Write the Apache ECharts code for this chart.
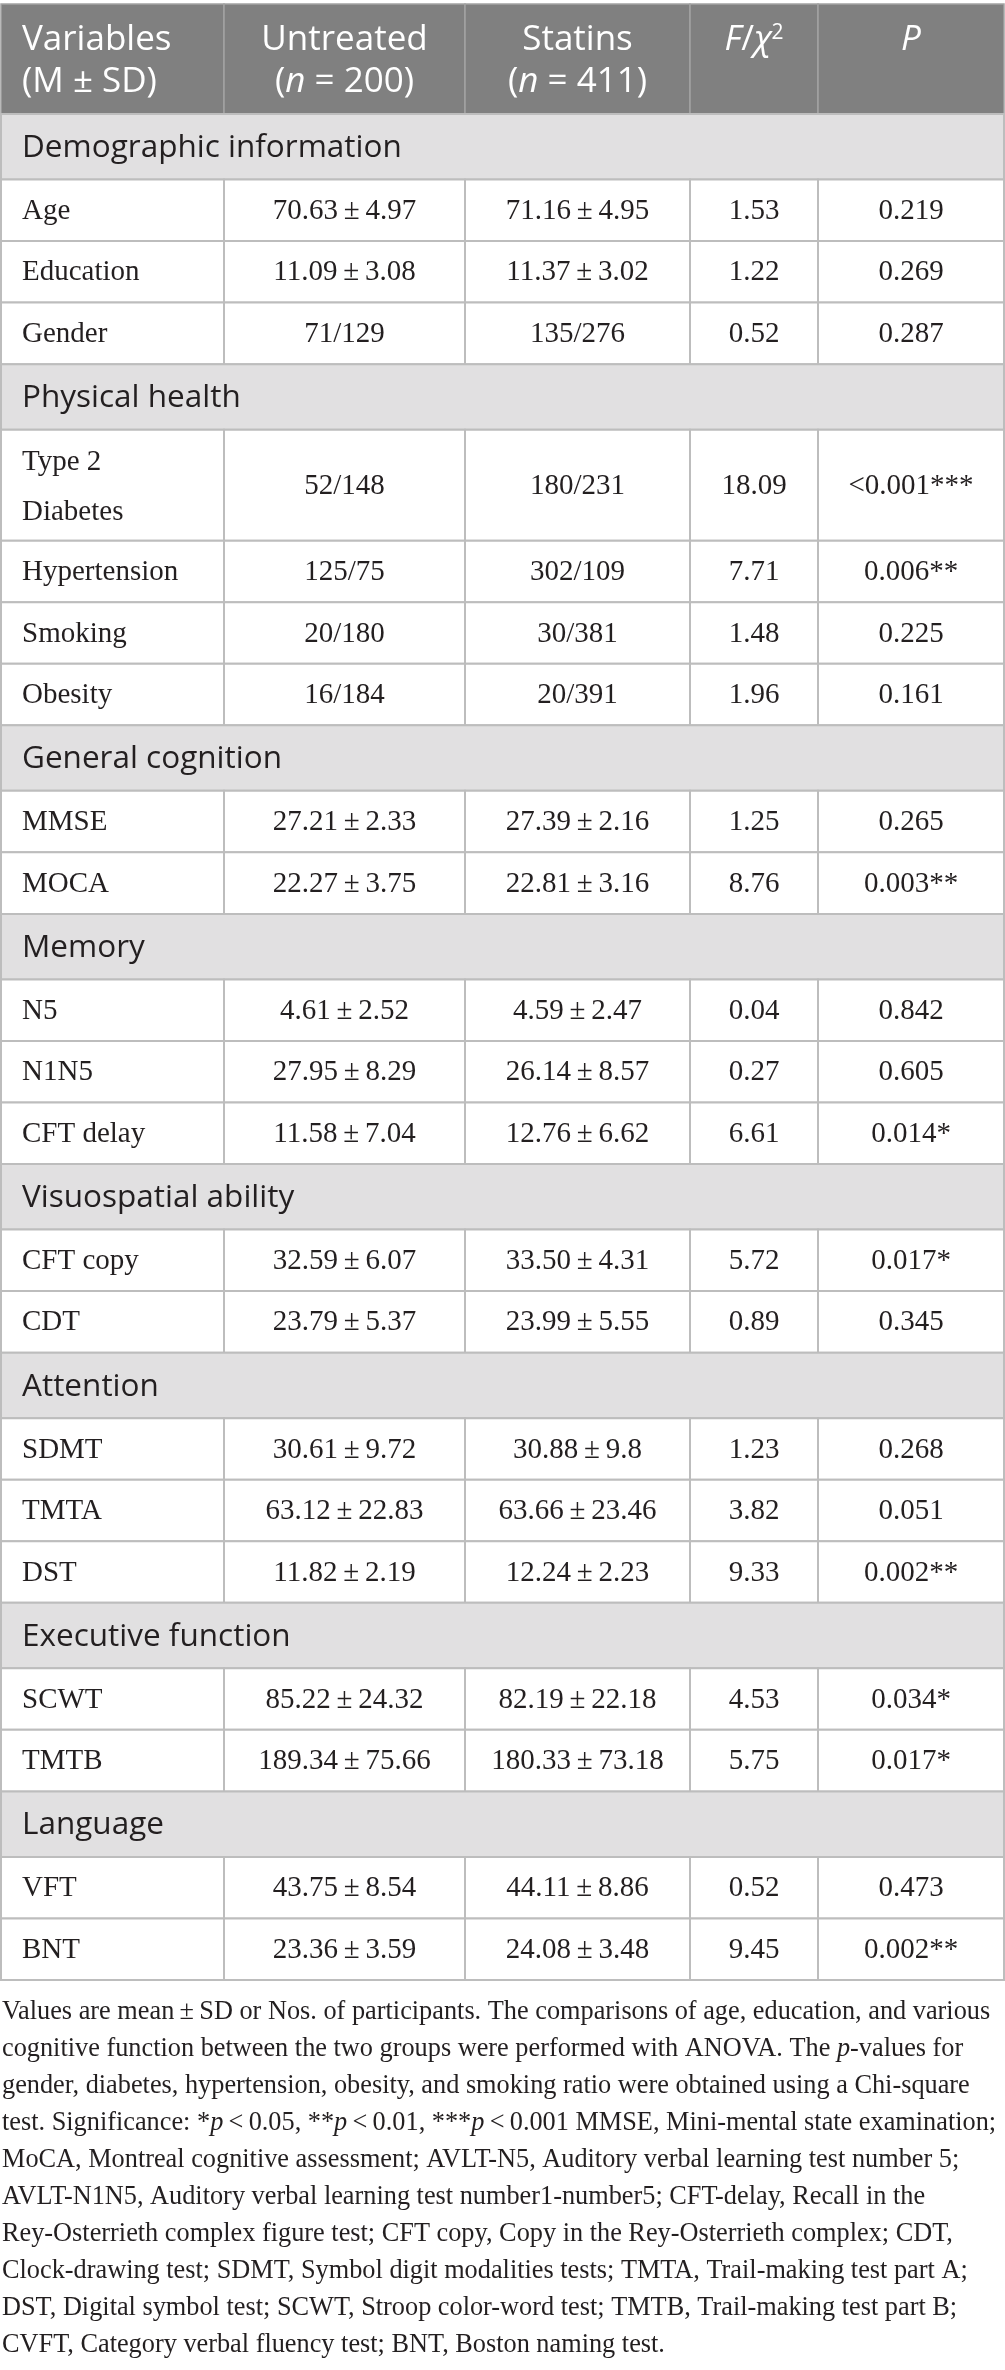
<!DOCTYPE html>
<html>
<head>
<meta charset="utf-8">
<script src="https://cdn.jsdelivr.net/npm/echarts@6/dist/echarts.min.js"></script>
<style>
html,body{margin:0;padding:0;background:#ffffff;}
#chart{width:1005px;height:2370px;}
</style>
</head>
<body>
<div id="chart"></div>
<script>
// ---------------- DATA ----------------
const headerLabels = [
  ['Variables', '(M ± SD)'],
  ['Untreated', '({i|n} = 200)'],
  ['Statins', '({i|n} = 411)'],
  ['{i|F}/{i|χ}{sup|2}'],
  ['{i|P}']
];
const sectionNames = [
  'Demographic information',
  'Physical health',
  'General cognition',
  'Memory',
  'Visuospatial ability',
  'Attention',
  'Executive function',
  'Language'
];
const rowSection = [0,0,0, 1,1,1,1, 2,2, 3,3,3, 4,4, 5,5,5, 6,6, 7,7];
const variableNames = [
  'Age','Education','Gender',
  'Type 2\nDiabetes','Hypertension','Smoking','Obesity',
  'MMSE','MOCA',
  'N5','N1N5','CFT delay',
  'CFT copy','CDT',
  'SDMT','TMTA','DST',
  'SCWT','TMTB',
  'VFT','BNT'
];
const untreatedValues = [
  '70.63±4.97','11.09±3.08','71/129',
  '52/148','125/75','20/180','16/184',
  '27.21±2.33','22.27±3.75',
  '4.61±2.52','27.95±8.29','11.58±7.04',
  '32.59±6.07','23.79±5.37',
  '30.61±9.72','63.12±22.83','11.82±2.19',
  '85.22±24.32','189.34±75.66',
  '43.75±8.54','23.36±3.59'
];
const statinsValues = [
  '71.16±4.95','11.37±3.02','135/276',
  '180/231','302/109','30/381','20/391',
  '27.39±2.16','22.81±3.16',
  '4.59±2.47','26.14±8.57','12.76±6.62',
  '33.50±4.31','23.99±5.55',
  '30.88±9.8','63.66±23.46','12.24±2.23',
  '82.19±22.18','180.33±73.18',
  '44.11±8.86','24.08±3.48'
];
const fValues = [
  1.53, 1.22, 0.52,
  18.09, 7.71, 1.48, 1.96,
  1.25, 8.76,
  0.04, 0.27, 6.61,
  5.72, 0.89,
  1.23, 3.82, 9.33,
  4.53, 5.75,
  0.52, 9.45
];
const pValues = [
  '0.219','0.269','0.287',
  '<0.001***','0.006**','0.225','0.161',
  '0.265','0.003**',
  '0.842','0.605','0.014*',
  '0.017*','0.345',
  '0.268','0.051','0.002**',
  '0.034*','0.017*',
  '0.473','0.002**'
];
const footnoteLines = [
  'Values are mean\u2009±\u2009SD or Nos. of participants. The comparisons of age, education, and various',
  'cognitive function between the two groups were performed with ANOVA. The {i|p}-values for',
  'gender, diabetes, hypertension, obesity, and smoking ratio were obtained using a Chi-square',
  'test. Significance: *{i|p}\u2009<\u20090.05, **{i|p}\u2009<\u20090.01, ***{i|p}\u2009<\u20090.001 MMSE, Mini-mental state examination;',
  'MoCA, Montreal cognitive assessment; AVLT-N5, Auditory verbal learning test number 5;',
  'AVLT-N1N5, Auditory verbal learning test number1-number5; CFT-delay, Recall in the',
  'Rey-Osterrieth complex figure test; CFT copy, Copy in the Rey-Osterrieth complex; CDT,',
  'Clock-drawing test; SDMT, Symbol digit modalities tests; TMTA, Trail-making test part A;',
  'DST, Digital symbol test; SCWT, Stroop color-word test; TMTB, Trail-making test part B;',
  'CVFT, Category verbal fluency test; BNT, Boston naming test.'
];

// ---------------- LAYOUT / STYLE ----------------
const colEdges = [1, 224, 465, 690, 818, 1004];
const TABLE_TOP = 4, HEADER_H = 110, SECTION_H = 65.5, ROW_H = 61.55, DOUBLE_H = 111;
const SANS = '"Open Sans", "Noto Sans", sans-serif';
const SERIF = '"Liberation Serif", "DejaVu Serif", serif';
const TEXT_DARK = '#231f20';
const HEADER_BG = '#808080', SECTION_BG = '#e1e0e1', GRID_LINE = '#bdbdbd';
const FOOT_TOP = 2012, FOOT_STEP = 37, FOOT_SIZE = 26.3, BODY_SIZE = 29;

// build the cell list
const cells = [];
let y = TABLE_TOP;
for (let c = 0; c < 5; c++) {
  cells.push({x0: colEdges[c], x1: colEdges[c + 1], y0: y, y1: y + HEADER_H, kind: 'header', lines: headerLabels[c], left: c === 0});
}
y += HEADER_H;
let lastSection = -1;
for (let r = 0; r < variableNames.length; r++) {
  if (rowSection[r] !== lastSection) {
    lastSection = rowSection[r];
    cells.push({x0: colEdges[0], x1: colEdges[5], y0: y, y1: y + SECTION_H, kind: 'section', lines: [sectionNames[lastSection]], left: true});
    y += SECTION_H;
  }
  const lines = variableNames[r].split('\n');
  const h = lines.length > 1 ? DOUBLE_H : ROW_H;
  const fmt = s => s.replace('±', '\u2009±\u2009');
  const vals = [variableNames[r], fmt(untreatedValues[r]), fmt(statinsValues[r]), fValues[r].toFixed(2), pValues[r]];
  for (let c = 0; c < 5; c++) {
    cells.push({x0: colEdges[c], x1: colEdges[c + 1], y0: y, y1: y + h, kind: 'data', lines: vals[c].split('\n'), left: c === 0});
  }
  y += h;
}

const chart = echarts.init(document.getElementById('chart'), null, {renderer: 'canvas'});

function renderCell(params, api) {
  const c = cells[api.value(4)];
  const p0 = api.coord([api.value(0), api.value(2)]);
  const p1 = api.coord([api.value(1), api.value(3)]);
  const children = [];
  let fill = '#ffffff', stroke = GRID_LINE, lw = 2;
  if (c.kind === 'header') { fill = HEADER_BG; stroke = '#a3a3a3'; lw = 1.5; }
  if (c.kind === 'section') { fill = SECTION_BG; }
  children.push({type: 'rect', shape: {x: p0[0], y: p0[1], width: p1[0] - p0[0], height: p1[1] - p0[1]},
    style: {fill: fill, stroke: stroke, lineWidth: lw}});
  const tx = c.left ? p0[0] + 21 : (p0[0] + p1[0]) / 2;
  let font, size, color, firstY, step;
  if (c.kind === 'header') { font = SANS; size = 35; color = '#ffffff'; firstY = p0[1] + 36; step = 42; }
  else if (c.kind === 'section') { font = SANS; size = 31.5; color = TEXT_DARK; firstY = p0[1] + 34; step = 0; }
  else { font = SERIF; size = BODY_SIZE; color = TEXT_DARK; firstY = c.lines.length > 1 ? p0[1] + 33 : (p0[1] + p1[1]) / 2 + 1; step = 50; }
  c.lines.forEach((t, i) => {
    children.push({type: 'text', x: tx, y: firstY + i * step,
      style: {text: t, fill: color, fontSize: size, fontFamily: font,
        align: c.left ? 'left' : 'center', verticalAlign: 'middle',
        rich: {
          i: {fontStyle: 'italic', fontSize: size, fontFamily: font, fill: color},
          sup: {fontSize: Math.round(size * 0.6), fontFamily: font, fill: color, verticalAlign: 'top'}
        }}});
  });
  return {type: 'group', children: children};
}

const footGraphics = footnoteLines.map((t, i) => ({
  type: 'text', x: 2, y: FOOT_TOP + i * FOOT_STEP,
  style: {text: t, fill: TEXT_DARK, fontSize: FOOT_SIZE, fontFamily: SERIF, verticalAlign: 'middle',
    rich: {i: {fontStyle: 'italic', fontSize: FOOT_SIZE, fontFamily: SERIF, fill: TEXT_DARK}}}
}));

chart.setOption({
  animation: false,
  backgroundColor: '#ffffff',
  grid: {left: 0, top: 0, width: 1005, height: 2370, containLabel: false, show: false},
  xAxis: {type: 'value', min: 0, max: 1005, show: false},
  yAxis: {type: 'value', min: 0, max: 2370, inverse: true, show: false},
  series: [{
    type: 'custom',
    clip: false,
    renderItem: renderCell,
    encode: {x: [0, 1], y: [2, 3]},
    data: cells.map((c, i) => [c.x0, c.x1, c.y0, c.y1, i])
  }],
  graphic: footGraphics
});
</script>
</body>
</html>
